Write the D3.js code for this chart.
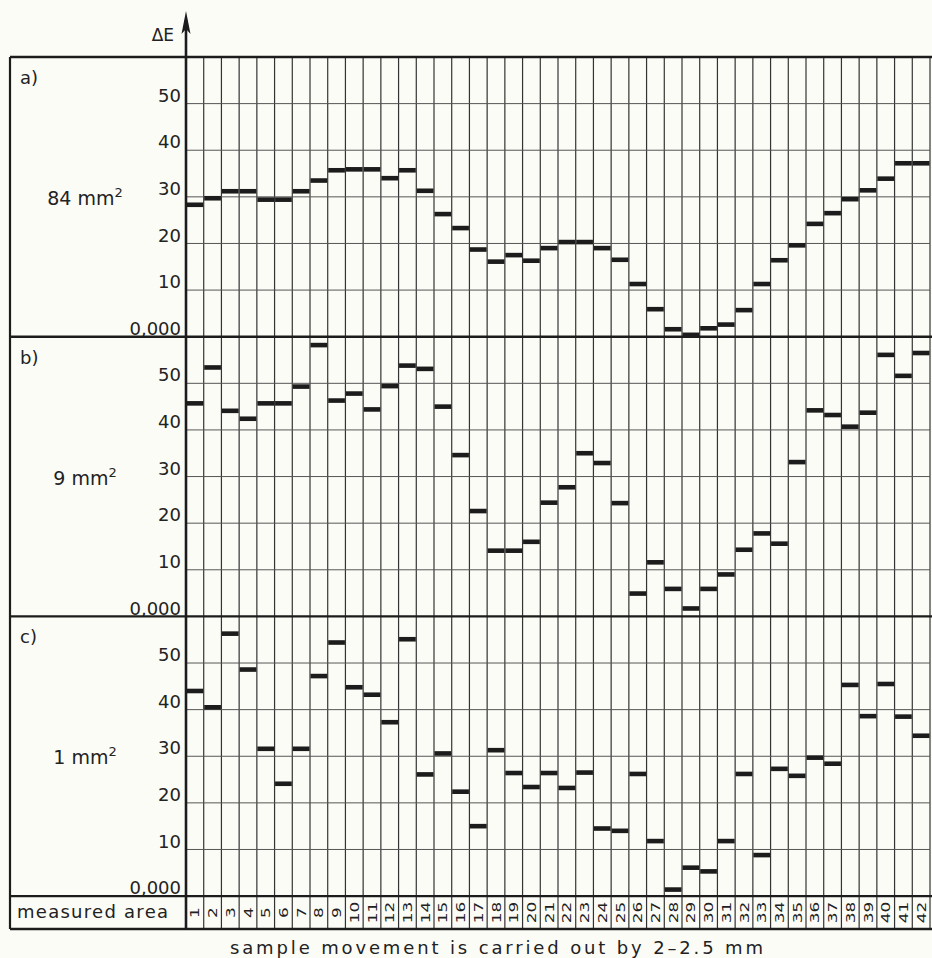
<!DOCTYPE html>
<html>
<head>
<meta charset="utf-8">
<script src="https://cdn.jsdelivr.net/npm/d3@7"></script>
<style>
  html, body { margin: 0; padding: 0; background: #fcfcf7; }
  svg { display: block; }
  text { font-family: "DejaVu Sans", sans-serif; fill: #222; }
</style>
</head>
<body>
<script>
// Measured areas (sample positions along the track)
const areas = d3.range(1, 43);

// Panel captions and probe sizes
const panelLetters = ["a)", "b)", "c)"];
const probeSizes = ["84", "9", "1"];

// ΔE tick values shown on every panel
const tickValues = [0, 10, 20, 30, 40, 50];

// ΔE readings per measured area, one series per probe size
const deltaE84 = [28.3, 29.7, 31.2, 31.2, 29.4, 29.4, 31.2, 33.5, 35.7, 35.9, 35.9, 34.0, 35.7, 31.3,
                  26.3, 23.3, 18.7, 16.1, 17.5, 16.3, 19.0, 20.3, 20.3, 19.0, 16.5, 11.3, 5.9, 1.6,
                  0.4, 1.8, 2.6, 5.7, 11.3, 16.4, 19.6, 24.2, 26.5, 29.5, 31.4, 33.9, 37.2, 37.2];
const deltaE9  = [45.7, 53.4, 44.1, 42.4, 45.7, 45.7, 49.3, 58.2, 46.3, 47.8, 44.4, 49.4, 53.8, 53.1,
                  45.0, 34.6, 22.6, 14.1, 14.1, 16.0, 24.4, 27.7, 35.0, 32.9, 24.3, 4.9, 11.6, 5.9,
                  1.7, 5.9, 9.0, 14.3, 17.8, 15.6, 33.1, 44.2, 43.2, 40.7, 43.7, 56.1, 51.6, 56.5];
const deltaE1  = [44.0, 40.5, 56.3, 48.6, 31.6, 24.1, 31.6, 47.2, 54.4, 44.8, 43.2, 37.3, 55.1, 26.1,
                  30.6, 22.4, 15.0, 31.3, 26.4, 23.4, 26.4, 23.2, 26.5, 14.5, 14.0, 26.2, 11.8, 1.4,
                  6.1, 5.3, 11.8, 26.2, 8.8, 27.3, 25.8, 29.7, 28.4, 45.3, 38.6, 45.5, 38.5, 34.4];

const series = [deltaE84, deltaE9, deltaE1];

// Layout
const W = 932, H = 958;
const frameLeft = 10, axisX = 186, gridRight = 930;
const top0 = 57, panelH = 279.7;
const rowBottom = 929;

const svg = d3.select("body").append("svg")
  .attr("width", W).attr("height", H)
  .style("background", "#fcfcf7");

const x = d3.scaleBand().domain(areas).range([axisX, gridRight]).padding(0);

const ink = "#1c1c1c";

// Vertical grid lines through all panels and the area row
const edges = areas.map(a => x(a)).concat([gridRight]);
svg.append("g").selectAll("line").data(edges.slice(1)).join("line")
  .attr("x1", d => d).attr("x2", d => d)
  .attr("y1", top0).attr("y2", rowBottom)
  .attr("stroke", "#333").attr("stroke-width", 1.2);

series.forEach((values, i) => {
  const pTop = top0 + i * panelH;
  const pBottom = pTop + panelH;
  const y = d3.scaleLinear().domain([0, 60]).range([pBottom, pTop]);
  const g = svg.append("g");

  // horizontal grid lines
  g.selectAll("line.h").data(tickValues.filter(t => t > 0)).join("line")
    .attr("class", "h")
    .attr("x1", axisX).attr("x2", gridRight)
    .attr("y1", d => y(d)).attr("y2", d => y(d))
    .attr("stroke", "#555").attr("stroke-width", 1);

  // tick labels
  const axis = d3.axisLeft(y).tickValues(tickValues).tickSize(0).tickPadding(5)
    .tickFormat(d => d === 0 ? "0,000" : d);
  const ag = g.append("g").attr("transform", `translate(${axisX},0)`).call(axis);
  ag.select(".domain").remove();
  ag.selectAll("text")
    .attr("dy", "-0.13em")
    .style("font-family", "'DejaVu Sans', sans-serif")
    .style("font-size", "18px")
    .attr("fill", "#222");

  // value bars
  g.selectAll("rect").data(values).join("rect")
    .attr("x", (d, k) => x(areas[k]) + 0.5)
    .attr("width", x.bandwidth() - 1)
    .attr("y", d => y(d) - 2.3)
    .attr("height", 4.6)
    .attr("fill", ink);

  // panel letter
  g.append("text").attr("x", 20).attr("y", pTop + 27)
    .style("font-size", "18px").text(panelLetters[i]);

  // probe size
  const t = g.append("text").attr("x", 85).attr("y", y(30) + 8)
    .attr("text-anchor", "middle").style("font-size", "19px");
  t.append("tspan").text(probeSizes[i] + " mm");
  t.append("tspan").attr("dy", -8).style("font-size", "13px").text("2");

  // separator below panel
  svg.append("line")
    .attr("x1", frameLeft).attr("x2", W)
    .attr("y1", pBottom).attr("y2", pBottom)
    .attr("stroke", ink).attr("stroke-width", 2.4);
});

// Top frame line
svg.append("line").attr("x1", frameLeft).attr("x2", W)
  .attr("y1", top0).attr("y2", top0)
  .attr("stroke", ink).attr("stroke-width", 2.4);

// Bottom frame line of the area row
svg.append("line").attr("x1", frameLeft).attr("x2", W)
  .attr("y1", rowBottom).attr("y2", rowBottom)
  .attr("stroke", ink).attr("stroke-width", 2.4);

// Left frame line
svg.append("line").attr("x1", frameLeft).attr("x2", frameLeft)
  .attr("y1", top0).attr("y2", rowBottom)
  .attr("stroke", ink).attr("stroke-width", 2.2);

// ΔE axis with arrow
svg.append("line").attr("x1", axisX).attr("x2", axisX)
  .attr("y1", 20).attr("y2", rowBottom)
  .attr("stroke", ink).attr("stroke-width", 2.6);
svg.append("path")
  .attr("d", `M${axisX},11 L${axisX - 4.5},34 L${axisX},29 L${axisX + 4.5},34 Z`)
  .attr("fill", ink);
svg.append("text").attr("x", 174).attr("y", 41)
  .attr("text-anchor", "end").style("font-size", "17px").text("ΔE");

// Measured area row
svg.append("text").attr("x", 17).attr("y", 918)
  .attr("textLength", 151).attr("lengthAdjust", "spacing")
  .style("font-size", "18px").text("measured area");

const rowMid = (top0 + 3 * panelH + rowBottom) / 2;
svg.append("g").selectAll("text").data(areas).join("text")
  .attr("transform", d => `translate(${x(d) + x.bandwidth() / 2 + 4.5},${rowMid}) rotate(-90) scale(1.3,1)`)
  .attr("text-anchor", "middle")
  .style("font-size", "13px")
  .text(d => d);

// Caption
svg.append("text").attr("x", 230).attr("y", 954)
  .attr("textLength", 533).attr("lengthAdjust", "spacing")
  .style("font-size", "18px")
  .text("sample movement is carried out by 2–2.5 mm");
</script>
</body>
</html>
